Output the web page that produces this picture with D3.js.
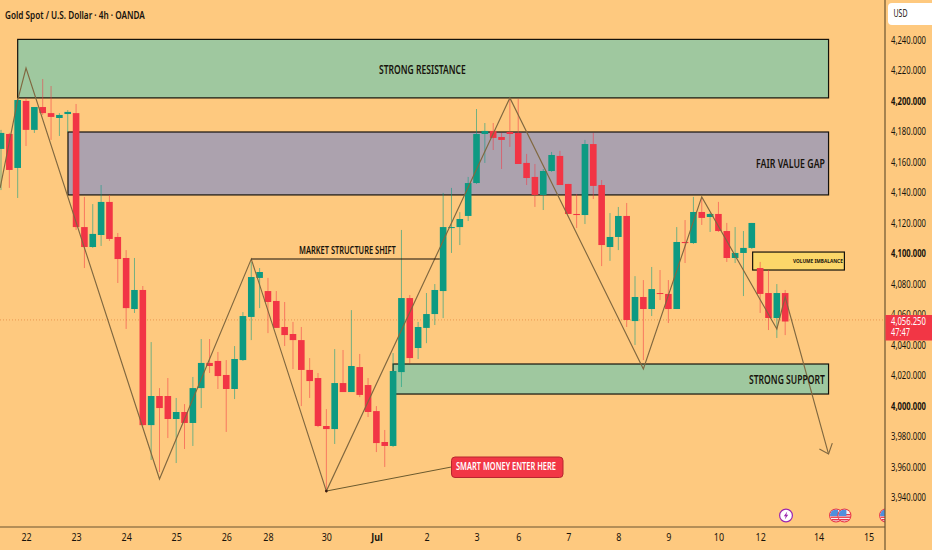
<!DOCTYPE html>
<html><head><meta charset="utf-8">
<script src="https://cdn.jsdelivr.net/npm/d3@7"></script>
<style>html,body{margin:0;padding:0;background:#fec97f;overflow:hidden}svg{display:block}</style>
</head><body><svg id="c" width="932" height="550"></svg>
<script>
const opens=[4168.5,4178.3,4156,4200,4181,4196,4192,4188.8,4191.4,4192,4117.2,4104.1,4112,4133.7,4110.7,4096.9,4063.4,4075.9,3987.2,4006.3,4006.3,3991.2,3995.8,3988.6,4011.5,4028,4029.3,4020.1,4010.9,4029.9,4058.2,4083.8,4075.2,4068.7,4051.6,4047,4043,4023.4,4018.1,3986.6,3984.6,4014.8,4008.9,4025.3,4013.5,3996.4,3976.1,3973.5,4022,4070.6,4037.8,4051,4060.1,4075.2,4116.6,4117.2,4124.5,4146.1,4178.3,4180.3,4176.3,4179.6,4179,4159.3,4150.1,4138.3,4154,4163.9,4145.5,4125.8,4125.1,4171.7,4144.8,4104.1,4110.7,4124.5,4055.5,4071.3,4063.4,4073.9,4073.3,4063.4,4107.4,4106.7,4127.1,4123.8,4125.8,4114.6,4096.9,4100.2,4103.5,4090.3,4073.9,4057.5,4073.9];
const closes=[4179,4154.7,4200.6,4181,4196,4192,4189.5,4190.8,4192.8,4117.2,4104.1,4112.7,4133.7,4109.4,4096.2,4064,4075.9,3987.2,4006.3,3998.4,3991.2,3995.8,3988.6,4011.5,4028,4026,4019.4,4010.9,4030.6,4058.8,4084.4,4087.7,4068,4051,4046.3,4043,4023.4,4016.1,3986.6,3984.6,4014.8,4008.9,4026,4007,3995.8,3975.4,3973.5,4022.7,4070.6,4031.2,4051.6,4060.1,4075.9,4117.2,4117.2,4122.5,4146.1,4178.3,4180.3,4175.7,4174.4,4178.3,4158.6,4149.4,4138.3,4154,4164.5,4144.8,4125.8,4125.1,4171.7,4144.2,4105.4,4110.7,4124.5,4056.2,4071.3,4063.4,4076.5,4073.3,4063.4,4107.4,4106.7,4127.1,4123.2,4125.8,4114.6,4096.9,4100.2,4103.5,4119.9,4073.3,4057.5,4073.9,4055.2];
const highs=[4181,4179,4201.3,4202,4196,4214.4,4209.8,4192,4194,4198,4137,4132.3,4144.8,4138.3,4113.3,4102.1,4096.9,4078.5,4041.7,4011.5,4018.1,4005,4001,4018.8,4043.7,4043.7,4035.2,4029.9,4039.1,4061.4,4094.3,4090.3,4083.8,4075.2,4068,4054.9,4051.6,4031.2,4021.4,3997.7,4037.1,4036.5,4062.7,4033.9,4018.1,3999.7,3984,4034.5,4115.3,4072.6,4054.9,4073.9,4079.8,4139.6,4142.9,4127,4150.1,4194.7,4185.5,4185.5,4179,4202,4201.3,4165.2,4158.6,4155.3,4166.5,4167.2,4145.5,4138.9,4174.4,4179,4148.1,4126.4,4130.4,4133,4085,4082.4,4091,4089,4082.4,4117.2,4121.8,4137,4136.3,4126.4,4133.7,4119.9,4117.2,4114.6,4119.9,4094.3,4089,4079.8,4075.9];
const lows=[4141.5,4142.9,4136.3,4170.4,4179,4190.8,4174.4,4177,4179.6,4115.3,4090.3,4103.5,4104.8,4108.1,4080.5,4050.3,4060.8,3986.6,3964.3,3956.4,3978.7,3962.3,3971.5,3973.5,3998.4,4021.4,4010.9,3982.7,4004.3,4029.3,4043,4064,4047.6,4051,4039.1,4024,3999.7,4005,3985.9,3944.6,3974.8,4008.9,4008.9,4005.6,3992.5,3969.5,3959.7,3972.8,4012.2,4028,4030.6,4041,4052.9,4057.5,4100.2,4105.4,4121.2,4145.5,4159.3,4167.8,4155.3,4169.8,4158.6,4144.8,4130.4,4128.4,4153.4,4144.8,4125.8,4116.6,4119.2,4135.6,4091.6,4095,4102.1,4051.6,4039.8,4029.9,4058.8,4069.3,4054.2,4063.4,4093.6,4106.1,4118.6,4114,4114,4094.3,4093.6,4071.9,4102.8,4060.8,4049.6,4044.4,4046.3];
const priceTicks=[4240,4220,4200,4180,4160,4140,4120,4100,4080,4060,4040,4020,4000,3980,3960,3940];
const strongPriceTicks=[4200,4100,4000];
const dateTickIndex=[3,9,15,21,27,32,39,45,51,57,62,68,74,80,86,91,98,104];
const dateTickLabels=["22","23","24","25","26","28","30","Jul","2","3","6","7","8","9","10","12","14","15"];
const zones=[
 {label:"STRONG RESISTANCE",x0:2,x1:99.2,top:4240.4,bottom:4202,fill:"#9fc89f"},
 {label:"FAIR VALUE GAP",x0:8.03,x1:99.2,top:4179.6,bottom:4138.3,fill:"#aca2ae"},
 {label:"STRONG SUPPORT",x0:47,x1:99.2,top:4027.3,bottom:4007.6,fill:"#9fc89f"},
 {label:"VOLUME IMBALANCE",x0:90.1,x1:101.1,top:4100.8,bottom:4089,fill:"#fbd769"}];
const zigzag=[[-0.1,4142.9],[2,4200.6],[3,4221.6],[19,3951.8],[30,4096.2],[39,3943.9],[61,4202],[77,4024],[84,4137],[93,4050.3],[94,4071.3],[99.2,3968.2]];
const arrowHead=[[98.1,3971.5],[99.2,3968.2],[99.65,3975.4]];
const mssLine=[[30,4096.2],[52.6,4096.2]];
const smartLine=[[39,3943.9],[54,3959.7]];
const lastPrice=4056.25;
const eventsFlash=[94.1];
const eventsFlag=[100.1,101.1,106.1];

const W=932,H=550,axisX=885,axisY=527;
const BG="#fec97f",UP="#0b9a82",DOWN="#f23645",INK="#17130c",RULE="#6a5430",ZIG="#806840";
const x=d3.scaleLinear().domain([0,104]).range([1,868.6]);
const y=d3.scaleLinear().domain([4240,3940]).range([40,497]);
const FONT="'Noto Sans',sans-serif";
const svg=d3.select("#c");
const defs=svg.append("defs");
defs.append("clipPath").attr("id","plot").append("rect").attr("width",axisX).attr("height",axisY);
defs.append("filter").attr("id","soft").append("feGaussianBlur").attr("stdDeviation",0.35);
svg.append("rect").attr("width",W).attr("height",H).attr("fill",BG);

const plot=svg.append("g").attr("clip-path","url(#plot)");
plot.append("line").attr("x1",0).attr("x2",axisX).attr("y1",y(lastPrice)).attr("y2",y(lastPrice))
  .attr("stroke","#e58a45").attr("stroke-width",.8).attr("stroke-dasharray","1 2");
plot.selectAll("rect.zone").data(zones).join("rect").attr("class","zone")
  .attr("x",d=>x(d.x0)).attr("y",d=>y(d.top)).attr("width",d=>x(d.x1)-x(d.x0)).attr("height",d=>y(d.bottom)-y(d.top))
  .attr("fill",d=>d.fill).attr("stroke","#14120c").attr("stroke-width",1.2);

const candles=opens.map((o,i)=>({i,o,c:closes[i],h:highs[i],l:lows[i]}));
const cg=plot.append("g").attr("filter","url(#soft)");
cg.selectAll("line").data(candles).join("line")
  .attr("x1",d=>x(d.i)).attr("x2",d=>x(d.i)).attr("y1",d=>y(d.h)).attr("y2",d=>y(d.l))
  .attr("stroke",d=>d.c>=d.o?UP:DOWN).attr("stroke-width",1).attr("stroke-opacity",.55);
cg.selectAll("rect").data(candles).join("rect")
  .attr("x",d=>x(d.i)-3.3).attr("width",6.6)
  .attr("y",d=>y(Math.max(d.o,d.c))).attr("height",d=>Math.max(1,Math.abs(y(d.o)-y(d.c))))
  .attr("fill",d=>d.c>=d.o?UP:DOWN);

const ln=d3.line().x(d=>x(d[0])).y(d=>y(d[1]));
plot.append("path").attr("d",ln(zigzag)).attr("fill","none").attr("stroke",ZIG).attr("stroke-width",1.15);
plot.append("path").attr("d",ln(arrowHead)).attr("fill","none").attr("stroke",ZIG).attr("stroke-width",1.15);
plot.append("path").attr("d",ln(mssLine)).attr("fill","none").attr("stroke",INK).attr("stroke-width",1.1);
plot.append("path").attr("d",ln(smartLine)).attr("fill","none").attr("stroke","#6b5a2e").attr("stroke-width",1);
plot.append("circle").attr("cx",x(39)).attr("cy",y(3943.9)).attr("r",1.4).attr("fill","#3a1a10");

function label(sel,txt,xx,yy,len,size,opts={}){
  const t=sel.append("text").text(txt).attr("dominant-baseline","central").attr("font-family",FONT)
    .attr("font-size",size).attr("font-weight",opts.w||500).attr("fill",opts.fill||INK);
  const n=t.node().getComputedTextLength();
  t.attr("transform",`translate(${xx},${yy}) scale(${len/n},1)`);
  return t;
}
label(svg,"Gold Spot / U.S. Dollar · 4h · OANDA",5,14,140,11.5,{w:600});
label(plot,zones[0].label,379,69,87,12,{w:600});
label(plot,zones[1].label,756,163,69,12,{w:600});
label(plot,zones[2].label,749,379,76,12,{w:600});
label(plot,zones[3].label,793,261,50,5.6,{w:700});
label(plot,"MARKET STRUCTURE SHIFT",299,251,97,10,{w:600});

plot.append("rect").attr("x",451.5).attr("y",457).attr("width",111.5).attr("height",20.5).attr("rx",3.5)
  .attr("fill",DOWN).attr("stroke","#b8252f").attr("stroke-width",1);
label(plot,"SMART MONEY ENTER HERE",456,467,100,10,{fill:"#fff",w:600});

// events
const evY=515.5;
plot.selectAll("g.flash").data(eventsFlash).join("g").attr("class","flash")
  .attr("transform",d=>`translate(${x(d)},${evY})`).each(function(){
    const g=d3.select(this);
    g.append("circle").attr("r",6.4).attr("fill","#fff").attr("stroke","#9c27b0").attr("stroke-width",1.2);
    g.append("path").attr("d","M1.2,-4 L-2.2,0.8 L-0.3,0.8 L-1.2,4 L2.2,-0.8 L0.3,-0.8 Z").attr("fill","#9c27b0");
  });
plot.selectAll("g.flag").data(eventsFlag).join("g").attr("class","flag")
  .attr("transform",d=>`translate(${x(d)},${evY})`).each(function(_,i){
    const g=d3.select(this);
    const id="fc"+i;
    g.append("clipPath").attr("id",id).append("circle").attr("r",6);
    g.append("circle").attr("r",6.4).attr("fill","#fff").attr("stroke","#e8394a").attr("stroke-width",1.3);
    const f=g.append("g").attr("clip-path",`url(#${id})`);
    f.append("rect").attr("x",-6).attr("y",-6).attr("width",12).attr("height",12).attr("fill","#f6f1ee");
    [-1.5,1,3.5].forEach(v=>f.append("rect").attr("x",-6).attr("y",v).attr("width",12).attr("height",1.4).attr("fill","#e8394a"));
    f.append("rect").attr("x",-6).attr("y",-6).attr("width",8).attr("height",6.5).attr("fill","#4f8fdc");
  });

// axes
const yAxis=d3.axisRight(y).tickValues(priceTicks).tickSize(0).tickPadding(0).tickFormat(d3.format(",.3f"));
const ya=svg.append("g").attr("transform","translate(891,0)").call(yAxis);
ya.select(".domain").remove();
ya.selectAll("text").attr("font-family",FONT).attr("font-size",11).attr("fill",INK).attr("x",0)
  .attr("font-weight",d=>strongPriceTicks.includes(d)?700:400)
  .each(function(){d3.select(this).attr("transform",`scale(${35/this.getComputedTextLength()},1)`);});
const xAxis=d3.axisBottom(x).tickValues(dateTickIndex).tickSize(0).tickPadding(0).tickFormat((d,i)=>dateTickLabels[i]);
const xa=svg.append("g").attr("transform",`translate(0,${axisY})`).call(xAxis);
xa.select(".domain").remove();
xa.selectAll("text").attr("font-family",FONT).attr("font-size",10.5).attr("fill",INK).attr("y",6.5)
  .attr("transform","scale(.85,1)").attr("x",0)
  .attr("font-weight",(d,i)=>dateTickLabels[i]==="Jul"?700:400);

svg.append("line").attr("x1",0).attr("x2",axisX).attr("y1",axisY).attr("y2",axisY).attr("stroke",RULE).attr("stroke-width",1.2);
svg.append("line").attr("x1",axisX).attr("x2",axisX).attr("y1",0).attr("y2",H).attr("stroke",RULE).attr("stroke-width",1.2);

// price tag and USD
svg.append("rect").attr("x",axisX+.5).attr("y",315).attr("width",W-axisX).attr("height",25.5).attr("fill",DOWN);
label(svg,"4,056.250",891,321,35,10,{fill:"#fff",w:400});
label(svg,"47:47",891,332.5,19,10,{fill:"#fff",w:400});
svg.append("rect").attr("x",888).attr("y",3).attr("width",50).attr("height",22).attr("rx",4).attr("fill","#fff");
label(svg,"USD",893.5,14,14,10,{w:400});
</script></body></html>
